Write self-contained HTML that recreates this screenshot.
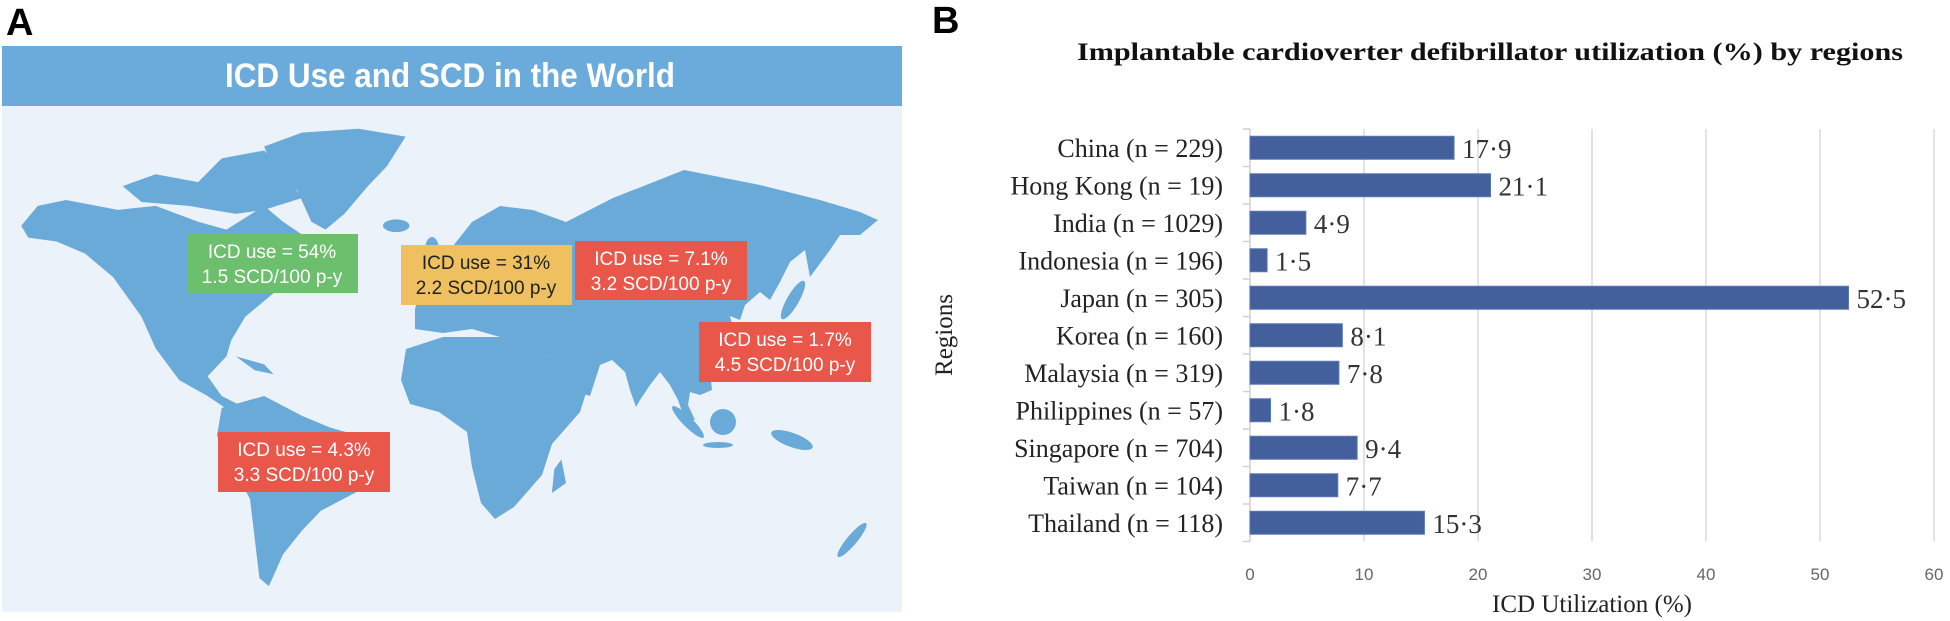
<!DOCTYPE html>
<html><head><meta charset="utf-8"><style>
html,body{margin:0;padding:0;background:#fff;}
svg{display:block;}
</style></head><body>
<svg id="fig" width="1950" height="621" viewBox="0 0 1950 621" xmlns="http://www.w3.org/2000/svg">
<!-- Panel A -->
<g>
  <text x="6" y="35" font-family="Liberation Sans, sans-serif" font-weight="bold" font-size="38" fill="#000">A</text>
  <rect x="2" y="46" width="900" height="60" fill="#6aabdb"/>
  <rect x="2" y="106" width="900" height="506" fill="#ebf2f9"/>
  <text x="450" y="87" text-anchor="middle" textLength="450" lengthAdjust="spacingAndGlyphs" font-family="Liberation Sans, sans-serif" font-weight="bold" font-size="34" fill="#fff">ICD Use and SCD in the World</text>
  <g fill="#6aaad9">
    <g transform="scale(0.4717,0.396)">
      <polygon points="45,570 80,520 140,505 250,530 330,520 420,560 480,580 560,520 600,560 650,600 700,610 690,650 620,700 560,760 520,800 490,860 480,900 440,950 470,1000 520,1030 490,1040 440,1000 380,960 330,880 300,800 240,700 180,640 120,610 60,600"/>
      <polygon points="260,470 330,440 420,460 470,400 560,380 600,430 640,500 560,530 500,540 400,520 300,510"/>
      <polygon points="560,370 640,335 760,325 860,345 820,420 780,470 730,540 690,580 660,560 630,480 580,430"/>
      <ellipse cx="840" cy="570" rx="28" ry="16"/>
      <polygon points="500,900 560,920 580,945 540,935"/>
      <polygon points="470,1030 560,1000 640,1050 700,1080 790,1110 820,1170 760,1240 680,1290 640,1340 600,1400 570,1480 550,1460 540,1360 530,1260 490,1170 460,1100"/>
      <polygon points="1190,1160 1200,1220 1170,1245 1175,1185"/>
    </g>
    <polygon points="406,349 443,337 500,337 528,345 547,356 590,380 580,412 552,444 542,475 514,507 495,519 481,503 472,467 467,432 439,412 410,404 401,380"/>
    <polygon points="415,309 425,277 453,246 472,222 500,206 533,210 566,222 613,198 684,170 760,185 820,200 860,212 878,220 860,235 840,235 830,250 810,277 805,250 790,262 780,282 770,300 760,292 745,305 740,320 730,316 735,335 720,350 710,370 712,390 700,395 690,392 688,405 695,420 685,420 678,400 670,385 660,372 650,385 640,400 636,407 630,390 625,372 612,360 600,365 590,396 566,388 547,356 533,349 500,337 472,329 443,333 415,329"/>
    <ellipse cx="432" cy="250" rx="7" ry="13"/>
    <ellipse cx="793" cy="300" rx="6" ry="22" transform="rotate(30 793 300)"/>
    <ellipse cx="723" cy="422" rx="13" ry="13"/>
    <ellipse cx="688" cy="422" rx="22" ry="5" transform="rotate(45 688 422)"/>
    <ellipse cx="718" cy="445" rx="15" ry="3"/>
    <ellipse cx="792" cy="440" rx="22" ry="7" transform="rotate(20 792 440)"/>
    <ellipse cx="852" cy="540" rx="5" ry="22" transform="rotate(40 852 540)"/>
  </g>
  <g font-family="Liberation Sans, sans-serif" font-size="19" text-anchor="middle">
    <g>
      <rect x="187" y="234" width="171" height="59" fill="#6cbf6c"/>
      <text x="272" y="258" fill="#fff">ICD use = 54%</text>
      <text x="272" y="283" fill="#fff">1.5 SCD/100 p-y</text>
    </g>
    <g>
      <rect x="401" y="245" width="171" height="60" fill="#eec05f"/>
      <text x="486" y="269" fill="#222">ICD use = 31%</text>
      <text x="486" y="294" fill="#222">2.2 SCD/100 p-y</text>
    </g>
    <g>
      <rect x="575" y="241" width="172" height="59" fill="#e8574a"/>
      <text x="661" y="265" fill="#fff">ICD use = 7.1%</text>
      <text x="661" y="290" fill="#fff">3.2 SCD/100 p-y</text>
    </g>
    <g>
      <rect x="699" y="322" width="172" height="60" fill="#e8574a"/>
      <text x="785" y="346" fill="#fff">ICD use = 1.7%</text>
      <text x="785" y="371" fill="#fff">4.5 SCD/100 p-y</text>
    </g>
    <g>
      <rect x="218" y="432" width="172" height="60" fill="#e8574a"/>
      <text x="304" y="456" fill="#fff">ICD use = 4.3%</text>
      <text x="304" y="481" fill="#fff">3.3 SCD/100 p-y</text>
    </g>
  </g>
</g>
<!-- Panel B -->
<g id="panelB">
  <text x="932" y="33" font-family="Liberation Sans, sans-serif" font-weight="bold" font-size="38" fill="#000">B</text>
  <text x="1490" y="60" text-anchor="middle" textLength="826" lengthAdjust="spacingAndGlyphs" font-family="Liberation Serif, serif" font-weight="bold" font-size="25" fill="#111">Implantable cardioverter defibrillator utilization (%) by regions</text>
  <text transform="translate(952,335) rotate(-90)" text-anchor="middle" font-family="Liberation Serif, serif" font-size="25" fill="#222">Regions</text>
  <text x="1592" y="612" text-anchor="middle" font-family="Liberation Serif, serif" font-size="25" fill="#222">ICD Utilization (%)</text>
  <g id="grid"></g>
  <g id="bars"></g>
</g>
</svg>
<script>
const categories = ["China (n = 229)","Hong Kong (n = 19)","India (n = 1029)","Indonesia (n = 196)","Japan (n = 305)","Korea (n = 160)","Malaysia (n = 319)","Philippines (n = 57)","Singapore (n = 704)","Taiwan (n = 104)","Thailand (n = 118)"];
const values = [17.9,21.1,4.9,1.5,52.5,8.1,7.8,1.8,9.4,7.7,15.3];
const valueLabels = ["17·9","21·1","4·9","1·5","52·5","8·1","7·8","1·8","9·4","7·7","15·3"];
const ticks = [0,10,20,30,40,50,60];

const NS = "http://www.w3.org/2000/svg";
const x0 = 1250, xMax = 60, xW = 684;
const yTop = 129, step = 37.5, barH = 23;
function xs(v){ return x0 + v / xMax * xW; }
function yc(i){ return yTop + step * (i + 0.5); }
function mk(tag, attrs, parent){ const e = document.createElementNS(NS, tag); for (const k in attrs) e.setAttribute(k, attrs[k]); parent.appendChild(e); return e; }
const grid = document.getElementById('grid');
const bars = document.getElementById('bars');
const yBot = yTop + step * categories.length;
ticks.forEach(t => {
  if (t > 0) {
    const l = mk('line', {x1: xs(t), x2: xs(t), y1: yTop, y2: yBot, stroke: '#d9d9d9', 'stroke-width': 1.5}, grid);
    
    
  }
  const tx = mk('text', {x: xs(t), y: 580, 'text-anchor': 'middle', 'font-family': 'Liberation Sans, sans-serif', 'font-size': 17, fill: '#666'}, grid);
  tx.textContent = t;
  
  
});
const ax = mk('line', {x1: x0, x2: x0, y1: yTop, y2: yBot, stroke: '#d0d0d0', 'stroke-width': 1.5}, grid);


for (let i = 0; i <= categories.length; i++) {
  const tk = mk('line', {x1: x0 - 7, x2: x0, y1: yTop + step * i, y2: yTop + step * i, stroke: '#d0d0d0', 'stroke-width': 1.5}, grid);
  
  
}
categories.forEach((c, i) => {
  const y = yc(i);
  const r = mk('rect', {x: x0, y: y - barH / 2, width: xs(values[i]) - x0, height: barH, fill: '#44609c', stroke: '#5a78b4', 'stroke-width': 1}, bars);
  
  
  const lb = mk('text', {x: 1223, y: y + 9, 'text-anchor': 'end', 'font-family': 'Liberation Serif, serif', 'font-size': 26, fill: '#222'}, bars);
  lb.textContent = c;
  
  
  const vl = mk('text', {x: xs(values[i]) + 8, y: y + 10, 'font-family': 'Liberation Serif, serif', 'font-size': 27, fill: '#333'}, bars);
  vl.textContent = valueLabels[i];
  
  
});
</script>
</body></html>
